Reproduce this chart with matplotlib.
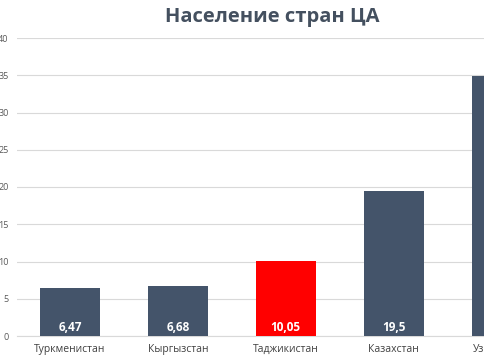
import matplotlib
matplotlib.use('Agg')
import matplotlib.pyplot as plt

countries = ['Туркменистан', 'Кыргызстан', 'Таджикистан', 'Казахстан', 'Узбекистан']
population = [6.47, 6.68, 10.05, 19.5, 34.9]
value_labels = ['6,47', '6,68', '10,05', '19,5', '34,9']
yticks = [0, 5, 10, 15, 20, 25, 30, 35, 40]

plt.rcParams['font.family'] = ['Open Sans', 'DejaVu Sans']

colors = ['#44546A', '#44546A', '#FF0000', '#44546A', '#44546A']

fig = plt.figure(figsize=(4.85, 3.6), dpi=100)
ax = fig.add_axes([17 / 485, 24 / 360, 1 - 17 / 485, (336 - 38) / 360])

x = list(range(len(countries)))
ax.bar(x, population, width=0.56, color=colors, zorder=3)

for i, lab in enumerate(value_labels):
    ax.text(i, 1.2, lab, ha='center', va='center', color='white',
            fontsize=8.5, fontweight='bold', zorder=4)

# category names drawn by hand so the cut-off last one still shows
for i, name in enumerate(countries):
    ax.annotate(name, xy=(i, 0), xycoords=('data', 'axes fraction'),
                xytext=(0, -9.5), textcoords='offset points',
                ha='center', va='center', fontsize=7.5, color='#404040',
                annotation_clip=False)

ax.set_yticks(yticks)
ax.set_xticks([])
ax.set_xlim(-0.49, 3.845)
ax.set_ylim(0, 40)
ax.tick_params(axis='y', labelsize=6.5, labelcolor='#595959', length=0, pad=6)
ax.grid(axis='y', color='#D9D9D9', linewidth=0.8, zorder=0)
for s in ['top', 'right', 'left']:
    ax.spines[s].set_visible(False)
ax.spines['bottom'].set_color('#D9D9D9')

fig.text(272 / 485, 1 - 17 / 360, 'Население стран ЦА', ha='center', va='center',
         fontsize=14.5, fontweight='bold', color='#44505F')

fig.savefig('out.png', dpi=100)
